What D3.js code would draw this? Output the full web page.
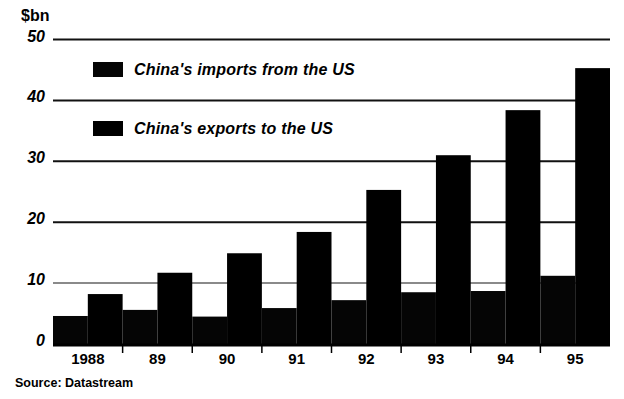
<!DOCTYPE html>
<html>
<head>
<meta charset="utf-8">
<script src="https://cdn.jsdelivr.net/npm/d3@7"></script>
<style>
  html, body { margin: 0; padding: 0; background: #fff; }
  svg { display: block; }
  text { font-family: "Liberation Sans", Arial, Helvetica, sans-serif; font-weight: bold; fill: #000; }
</style>
</head>
<body>
<svg id="chart" width="624" height="399"></svg>
<script>
const years = ["1988", "89", "90", "91", "92", "93", "94", "95"];
const seriesNames = ["China's imports from the US", "China's exports to the US"];
const imports = [4.6, 5.6, 4.5, 5.9, 7.2, 8.5, 8.7, 11.2];
const exportsUS = [8.2, 11.7, 14.9, 18.4, 25.3, 31.0, 38.4, 45.3];
const yTicks = [0, 10, 20, 30, 40, 50];
const unitLabel = "$bn";
const sourceText = "Source: Datastream";

(function () {
const svg = d3.select("#chart");
const mLeft = 53, mRight = 610, mTop = 39.5, mBottom = 344;

const x = d3.scaleBand().domain(years).range([mLeft, mRight]).padding(0);
const xInner = d3.scaleBand().domain(["imports", "exports"]).range([0, x.bandwidth()]).padding(0);
const y = d3.scaleLinear().domain([0, 50]).range([mBottom, mTop]);

// gridlines
svg.append("g").selectAll("line")
  .data(yTicks.filter(d => d > 0))
  .join("line")
  .attr("x1", mLeft).attr("x2", mRight)
  .attr("y1", d => y(d)).attr("y2", d => y(d))
  .attr("stroke", d => d === 10 ? "#8a8a8a" : "#111")
  .attr("stroke-width", 2);

// y-axis labels
svg.append("g").selectAll("text")
  .data(yTicks)
  .join("text")
  .attr("x", 45)
  .attr("y", d => y(d) + 2)
  .attr("text-anchor", "end")
  .attr("font-size", 16)
  .attr("font-style", "italic")
  .text(d => d);

svg.append("text")
  .attr("x", 21).attr("y", 21)
  .attr("font-size", 16)
  .text(unitLabel);

// bars
const rows = years.map((yr, i) => ({ yr, imports: imports[i], exports: exportsUS[i] }));
const groups = svg.append("g").selectAll("g")
  .data(rows)
  .join("g")
  .attr("transform", d => `translate(${x(d.yr)},0)`);

groups.append("rect")
  .attr("x", xInner("imports"))
  .attr("width", xInner.bandwidth())
  .attr("y", d => y(d.imports))
  .attr("height", d => mBottom - y(d.imports) + 2)
  .attr("fill", "#050505");

groups.append("rect")
  .attr("x", xInner("exports"))
  .attr("width", xInner.bandwidth())
  .attr("y", d => y(d.exports))
  .attr("height", d => mBottom - y(d.exports) + 2)
  .attr("fill", "#000");

// baseline
svg.append("line")
  .attr("x1", mLeft).attr("x2", mRight)
  .attr("y1", y(0) + 1).attr("y2", y(0) + 1)
  .attr("stroke", "#000").attr("stroke-width", 3);

// tick marks at group boundaries
svg.append("g").selectAll("line")
  .data(years.slice(1))
  .join("line")
  .attr("x1", d => x(d)).attr("x2", d => x(d))
  .attr("y1", y(0)).attr("y2", y(0) + 9)
  .attr("stroke", "#000").attr("stroke-width", 1.5);

// x labels
svg.append("g").selectAll("text")
  .data(years)
  .join("text")
  .attr("x", d => x(d) + x.bandwidth() / 2)
  .attr("y", 364)
  .attr("text-anchor", "middle")
  .attr("font-size", 15)
  .text(d => d);

// legend
const legendY = [62, 121];
const legend = svg.append("g").selectAll("g")
  .data(seriesNames)
  .join("g")
  .attr("transform", (d, i) => `translate(93,${legendY[i]})`);
legend.append("rect")
  .attr("width", 30).attr("height", 15)
  .attr("fill", (d, i) => i === 0 ? "#050505" : "#000");
legend.append("text")
  .attr("x", 41).attr("y", 13)
  .attr("font-size", 16)
  .attr("font-style", "italic")
  .attr("letter-spacing", 0.2)
  .text(d => d);

// source
svg.append("text")
  .attr("x", 15).attr("y", 387)
  .attr("font-size", 12.5)
  .text(sourceText);
})();
</script>
</body>
</html>
